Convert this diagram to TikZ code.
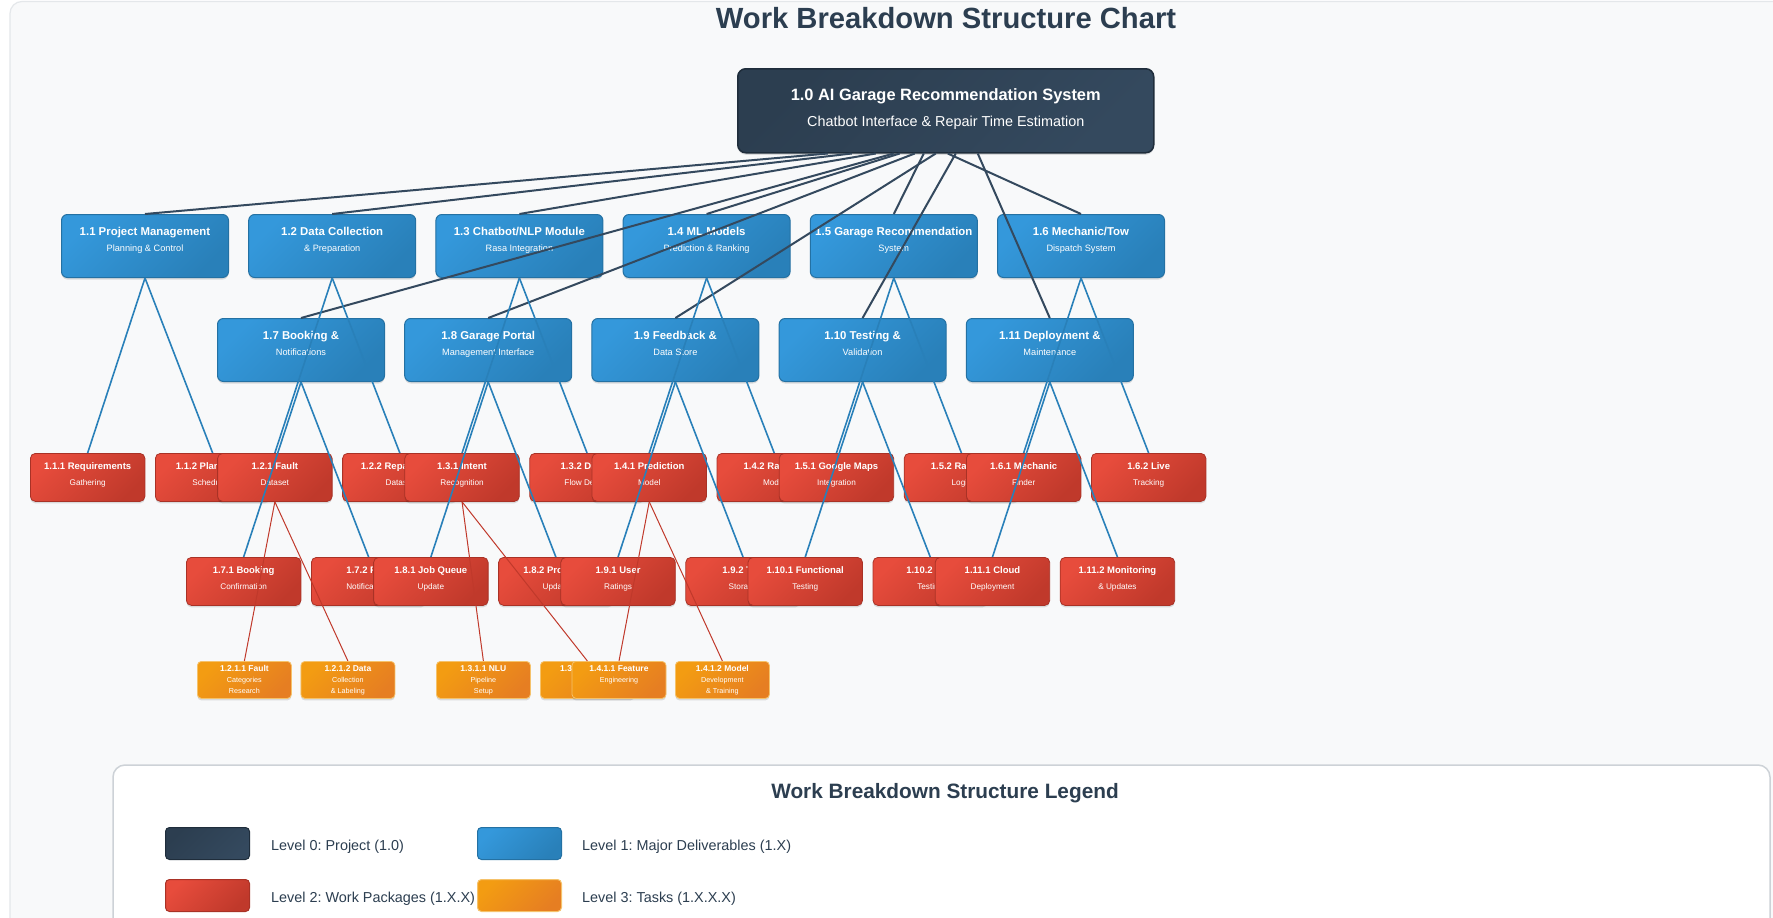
\documentclass[tikz,border=0pt]{standalone}
\usepackage{fontspec}
\setmainfont{Liberation Sans}
\frenchspacing
\usetikzlibrary{shadows,calc}
\definecolor{dkA}{HTML}{2C3E50}
\definecolor{dkB}{HTML}{34495E}
\definecolor{dkE}{HTML}{1F2D3B}
\definecolor{blA}{HTML}{3498DB}
\definecolor{blB}{HTML}{2980B9}
\definecolor{blE}{HTML}{2471A3}
\definecolor{rdA}{HTML}{E74C3C}
\definecolor{rdB}{HTML}{C0392B}
\definecolor{rdE}{HTML}{A93226}
\definecolor{orA}{HTML}{F39C12}
\definecolor{orB}{HTML}{E67E22}
\definecolor{orE}{HTML}{F5C26B}
\definecolor{bgC}{HTML}{F8F9FA}
\definecolor{bgE}{HTML}{E4E7EA}
\definecolor{lgE}{HTML}{CDD2D7}
\newcommand\fs[1]{\fontsize{#1}{#1}\selectfont}
\tikzset{
  shad/.style={drop shadow={shadow xshift=0pt,shadow yshift=-2pt,opacity=0.12,fill=black}},
  rootbox/.style={rectangle,inner sep=0pt,rounded corners=8pt,minimum width=416pt,minimum height=84pt,draw=dkE,line width=1.5pt,top color=dkA,bottom color=dkB,shading angle=45,shad},
  lonebox/.style={rectangle,inner sep=0pt,rounded corners=6pt,minimum width=167pt,minimum height=63pt,draw=blE,line width=1pt,top color=blA,bottom color=blB,shading angle=45,shad},
  ltwobox/.style={rectangle,inner sep=0pt,rounded corners=5pt,minimum width=114.5pt,minimum height=48pt,draw=rdE,line width=0.8pt,top color=rdA,bottom color=rdB,shading angle=45,shad},
  lthreebox/.style={rectangle,inner sep=0pt,rounded corners=4pt,minimum width=94pt,minimum height=37pt,draw=orE,line width=0.8pt,top color=orA,bottom color=orB,shading angle=45,shad},
  swatch/.style={rectangle,inner sep=0pt,rounded corners=4pt,minimum width=84pt,minimum height=32pt,line width=1pt,anchor=north west,shading angle=45},
  txt/.style={inner sep=0pt,anchor=base,text=white},
  lzero/.style={draw=dkB,line width=2pt},
  lone/.style={draw=blB,line width=1.6pt},
  ltwo/.style={draw=rdB,line width=1pt},
  legtxt/.style={inner sep=0pt,anchor=base west,text=dkA,font=\fs{14.4}},
}
\newcommand\Lone[5]{%
  \node[lonebox,anchor=north west] (#1) at (#2,#3) {};
  \node[txt,font=\fs{11.4}\bfseries] (#1t) at ($(#1.north)+(0,21)$) {#4};
  \node[txt,font=\fs{9.2}] (#1s) at ($(#1.north)+(0,37)$) {#5};}
\newcommand\Ltwo[5]{%
  \node[ltwobox,anchor=north west] (#1) at (#2,#3) {};
  \node[txt,font=\fs{9.5}\bfseries] (#1t) at ($(#1.north)+(0,16)$) {#4};
  \node[txt,font=\fs{8.2}] (#1s) at ($(#1.north)+(0,32)$) {#5};}
\newcommand\Lthree[5]{%
  \node[lthreebox,anchor=north west] (#1) at (#2,661) {};
  \node[txt,font=\fs{8.5}\bfseries] (#1t) at ($(#1.north)+(0,10.8)$) {#3};
  \node[txt,font=\fs{7.2}] (#1s) at ($(#1.north)+(0,21.4)$) {#4};
  \node[txt,font=\fs{7.2}] (#1u) at ($(#1.north)+(0,32.4)$) {#5};}
\begin{document}
\begin{tikzpicture}[x=1pt,y=-1pt]
\useasboundingbox (0,0) rectangle (1773,918);
\fill[white] (0,0) rectangle (1773,918);
\path[fill=bgC,draw=bgE,line width=1.2pt,rounded corners=12pt] (10,1.5) rectangle (1800,960);
\node[inner sep=0pt,anchor=base,text=dkA,font=\fs{29.2}\bfseries] (title) at (946,28) {Work Breakdown Structure Chart};

% level 0
\node[rootbox,anchor=north west] (root) at (737,68) {};
\node[txt,font=\fs{16.4}\bfseries] (roott) at ($(root.north)+(0,32)$) {1.0 AI Garage Recommendation System};
\node[txt,font=\fs{14.4}] (roots) at ($(root.north)+(0,58)$) {Chatbot Interface \& Repair Time Estimation};

% level 1
\Lone{a1}{61}{214}{1.1 Project Management}{Planning \& Control}
\Lone{a2}{248.2}{214}{1.2 Data Collection}{\& Preparation}
\Lone{a3}{435.4}{214}{1.3 Chatbot/NLP Module}{Rasa Integration}
\Lone{a4}{622.6}{214}{1.4 ML Models}{Prediction \& Ranking}
\Lone{a5}{809.8}{214}{1.5 Garage Recommendation}{System}
\Lone{a6}{997}{214}{1.6 Mechanic/Tow}{Dispatch System}
\Lone{a7}{217}{318}{1.7 Booking \&}{Notifications}
\Lone{a8}{404.2}{318}{1.8 Garage Portal}{Management Interface}
\Lone{a9}{591.4}{318}{1.9 Feedback \&}{Data Store}
\Lone{a10}{778.6}{318}{1.10 Testing \&}{Validation}
\Lone{a11}{965.8}{318}{1.11 Deployment \&}{Maintenance}

% level 2
\Ltwo{b1x1}{30}{453}{1.1.1 Requirements}{Gathering}
\Ltwo{b1x2}{155}{453}{1.1.2 Planning \&}{Scheduling}
\Ltwo{b2x1}{217.2}{453}{1.2.1 Fault}{Dataset}
\Ltwo{b2x2}{342.2}{453}{1.2.2 Repair Time}{Dataset}
\Ltwo{b3x1}{404.4}{453}{1.3.1 Intent}{Recognition}
\Ltwo{b3x2}{529.4}{453}{1.3.2 Dialog}{Flow Design}
\Ltwo{b4x1}{591.6}{453}{1.4.1 Prediction}{Model}
\Ltwo{b4x2}{716.6}{453}{1.4.2 Ranking}{Model}
\Ltwo{b5x1}{778.8}{453}{1.5.1 Google Maps}{Integration}
\Ltwo{b5x2}{903.8}{453}{1.5.2 Ranking}{Logic}
\Ltwo{b6x1}{966}{453}{1.6.1 Mechanic}{Finder}
\Ltwo{b6x2}{1091}{453}{1.6.2 Live}{Tracking}
\Ltwo{b7x1}{186}{557}{1.7.1 Booking}{Confirmation}
\Ltwo{b7x2}{311}{557}{1.7.2 FCM}{Notifications}
\Ltwo{b8x1}{373.2}{557}{1.8.1 Job Queue}{Update}
\Ltwo{b8x2}{498.2}{557}{1.8.2 Progress}{Update}
\Ltwo{b9x1}{560.4}{557}{1.9.1 User}{Ratings}
\Ltwo{b9x2}{685.4}{557}{1.9.2 Trip}{Storage}
\Ltwo{b10x1}{747.6}{557}{1.10.1 Functional}{Testing}
\Ltwo{b10x2}{872.6}{557}{1.10.2 UAT}{Testing}
\Ltwo{b11x1}{934.8}{557}{1.11.1 Cloud}{Deployment}
\Ltwo{b11x2}{1059.8}{557}{1.11.2 Monitoring}{\& Updates}

% level 3
\Lthree{c1}{197}{1.2.1.1 Fault}{Categories}{Research}
\Lthree{c2}{300.5}{1.2.1.2 Data}{Collection}{\& Labeling}
\Lthree{c3}{436}{1.3.1.1 NLU}{Pipeline}{Setup}
\Lthree{c4}{540}{1.3.1.2 Dialog}{Flow}{Design}
\Lthree{c5}{571.6}{1.4.1.1 Feature}{Engineering}{}
\Lthree{c6}{675}{1.4.1.2 Model}{Development}{\& Training}

% connectors level 0 -> 1
\foreach \c/\s in {a1/-118,a2/-94,a3/-70,a4/-46,a5/-22,a6/2,a7/-52,a8/-31,a9/-10,a10/10,a11/32}
  \draw[lzero] ([xshift=\s pt]root.south) -- (\c.north);
% level 1 -> 2
\foreach \p in {1,...,11}
  {\draw[lone] (a\p.south) -- (b\p x1.north);
   \draw[lone] (a\p.south) -- (b\p x2.north);}
% level 2 -> 3
\draw[ltwo] (b2x1.south) -- (c1.north);
\draw[ltwo] (b2x1.south) -- (c2.north);
\draw[ltwo] (b3x1.south) -- (c3.north);
\draw[ltwo] (b3x1.south) -- (c4.north);
\draw[ltwo] (b4x1.south) -- (c5.north);
\draw[ltwo] (b4x1.south) -- (c6.north);

% legend
\path[fill=white,draw=lgE,line width=1.5pt,rounded corners=12pt,drop shadow={shadow xshift=0pt,shadow yshift=-2pt,opacity=0.08,fill=black}] (113,765) rectangle (1770,960);
\node[inner sep=0pt,anchor=base,text=dkA,font=\fs{20.8}\bfseries] (legt) at (945,798) {Work Breakdown Structure Legend};
\node[swatch,draw=dkE,top color=dkA,bottom color=dkB,shading angle=45] (sw0) at (165,827) {};
\node[legtxt] (lg0) at (271,850) {Level 0: Project (1.0)};
\node[swatch,draw=blE,top color=blA,bottom color=blB,shading angle=45] (sw1) at (477,827) {};
\node[legtxt] (lg1) at (582,850) {Level 1: Major Deliverables (1.X)};
\node[swatch,draw=rdE,top color=rdA,bottom color=rdB,shading angle=45] (sw2) at (165,879) {};
\node[legtxt] (lg2) at (271,902) {Level 2: Work Packages (1.X.X)};
\node[swatch,draw=orE,top color=orA,bottom color=orB,shading angle=45] (sw3) at (477,879) {};
\node[legtxt] (lg3) at (582,902) {Level 3: Tasks (1.X.X.X)};
\end{tikzpicture}
\end{document}
